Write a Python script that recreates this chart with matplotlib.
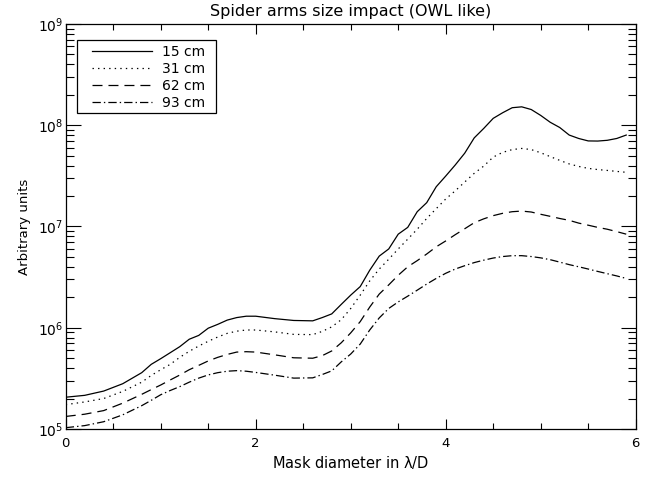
import numpy as np
import matplotlib as mpl
mpl.use('Agg')
import matplotlib.pyplot as plt
from matplotlib.patches import Rectangle
from matplotlib.ticker import MultipleLocator, LogLocator

# mask diameter in lambda/D
mask_diam = [0.0, 0.2, 0.4, 0.6, 0.8, 0.9, 1.0, 1.1, 1.2, 1.3, 1.4, 1.5, 1.6, 1.7, 1.8, 1.9,
             2.0, 2.2, 2.4, 2.6, 2.7, 2.8, 2.9, 3.0, 3.1, 3.2, 3.3, 3.4, 3.5, 3.6, 3.7, 3.8,
             3.9, 4.0, 4.1, 4.2, 4.3, 4.4, 4.5, 4.6, 4.7, 4.8, 4.9, 5.0, 5.1, 5.2, 5.3, 5.4,
             5.5, 5.6, 5.7, 5.8, 5.9]

# arbitrary units, one list per spider arm size
arm_15cm = [2.06e5, 2.15e5, 2.37e5, 2.8e5, 3.6e5, 4.35e5, 4.95e5, 5.67e5, 6.5e5, 7.7e5, 8.4e5,
            9.9e5, 1.08e6, 1.19e6, 1.26e6, 1.30e6, 1.30e6, 1.23e6, 1.18e6, 1.17e6, 1.26e6,
            1.37e6, 1.7e6, 2.1e6, 2.55e6, 3.7e6, 5.1e6, 6.0e6, 8.4e6, 9.8e6, 1.40e7, 1.72e7,
            2.47e7, 3.15e7, 4.05e7, 5.3e7, 7.5e7, 9.3e7, 1.17e8, 1.33e8, 1.49e8, 1.52e8,
            1.43e8, 1.25e8, 1.07e8, 9.5e7, 8.0e7, 7.4e7, 7.0e7, 6.98e7, 7.1e7, 7.4e7, 8.0e7]
arm_31cm = [1.74e5, 1.85e5, 2.0e5, 2.35e5, 2.9e5, 3.38e5, 3.85e5, 4.35e5, 5.1e5, 5.85e5, 6.6e5,
            7.35e5, 8.1e5, 8.8e5, 9.25e5, 9.5e5, 9.5e5, 9.1e5, 8.6e5, 8.55e5, 9.2e5, 1.02e6,
            1.2e6, 1.55e6, 2.1e6, 2.9e6, 3.8e6, 4.75e6, 6.0e6, 7.5e6, 9.4e6, 1.2e7, 1.5e7,
            1.87e7, 2.25e7, 2.75e7, 3.35e7, 3.95e7, 4.85e7, 5.4e7, 5.75e7, 5.9e7, 5.75e7,
            5.35e7, 4.9e7, 4.5e7, 4.15e7, 3.92e7, 3.75e7, 3.65e7, 3.58e7, 3.5e7, 3.43e7]
arm_62cm = [1.33e5, 1.4e5, 1.52e5, 1.8e5, 2.2e5, 2.45e5, 2.72e5, 3.05e5, 3.41e5, 3.85e5, 4.25e5,
            4.7e5, 5.1e5, 5.45e5, 5.75e5, 5.8e5, 5.75e5, 5.4e5, 5.05e5, 5.0e5, 5.3e5, 5.9e5,
            7.1e5, 8.9e5, 1.15e6, 1.6e6, 2.15e6, 2.65e6, 3.3e6, 4.0e6, 4.6e6, 5.35e6, 6.3e6,
            7.2e6, 8.3e6, 9.5e6, 1.09e7, 1.19e7, 1.28e7, 1.35e7, 1.40e7, 1.42e7, 1.39e7,
            1.32e7, 1.26e7, 1.2e7, 1.15e7, 1.08e7, 1.03e7, 9.8e6, 9.4e6, 8.9e6, 8.4e6]
arm_93cm = [1.03e5, 1.08e5, 1.18e5, 1.38e5, 1.7e5, 1.92e5, 2.18e5, 2.4e5, 2.62e5, 2.9e5, 3.18e5,
            3.42e5, 3.6e5, 3.72e5, 3.77e5, 3.72e5, 3.62e5, 3.4e5, 3.18e5, 3.2e5, 3.45e5, 3.75e5,
            4.6e5, 5.5e5, 6.9e5, 9.5e5, 1.25e6, 1.55e6, 1.8e6, 2.05e6, 2.35e6, 2.7e6, 3.07e6,
            3.45e6, 3.8e6, 4.1e6, 4.4e6, 4.65e6, 4.88e6, 5.05e6, 5.15e6, 5.15e6, 5.05e6,
            4.9e6, 4.7e6, 4.45e6, 4.2e6, 4.0e6, 3.8e6, 3.6e6, 3.42e6, 3.25e6, 3.07e6]

labels = ['15 cm', '31 cm', '62 cm', '93 cm']

plt.rcParams['font.family'] = 'DejaVu Sans'
plt.rcParams['mathtext.default'] = 'regular'
plt.rcParams['lines.scale_dashes'] = False

fig = plt.figure(figsize=(6.62, 4.79), dpi=100)
ax = fig.add_axes([0.0993, 0.1044, 0.8610, 0.8455])

# IDL-like linestyles: solid, dotted, dashed, dash-dot
styles = ['-', (0, (1, 3)), (0, (7.2, 4.3)), (0, (6, 2.2, 1, 2.2))]
series = [arm_15cm, arm_31cm, arm_62cm, arm_93cm]
for vals, ls, lab in zip(series, styles, labels):
    ax.plot(mask_diam, vals, color='black', linestyle=ls, linewidth=0.9, label=lab)

ax.set_yscale('log')
ax.set_xlim(0, 6)
ax.set_ylim(1e5, 1e9)

ax.xaxis.set_major_locator(MultipleLocator(2))
ax.xaxis.set_minor_locator(MultipleLocator(0.5))
ax.yaxis.set_major_locator(LogLocator(base=10))
ax.yaxis.set_minor_locator(LogLocator(base=10, subs=np.arange(2, 10)))

ax.tick_params(which='both', direction='in', top=True, right=True, width=0.8, colors='black')
ax.tick_params(axis='x', which='major', length=7, pad=6, labelsize=9.5)
ax.tick_params(axis='x', which='minor', length=4)
ax.tick_params(axis='y', which='major', length=11, pad=2, labelsize=10)
ax.tick_params(axis='y', which='minor', length=5.5)
for sp in ax.spines.values():
    sp.set_linewidth(0.9)

ax.set_title('Spider arms size impact (OWL like)', fontsize=11.5, pad=6)
ax.set_xlabel('Mask diameter in $\\lambda$/D', fontsize=10.5, labelpad=3)
ax.set_ylabel('Arbitrary units', fontsize=9.5, labelpad=5)

# legend box drawn by hand so the padding matches the original
ax.add_patch(Rectangle((0.0193, 0.781), 0.2437, 0.1788, transform=ax.transAxes,
                       fill=False, edgecolor='black', linewidth=0.9, zorder=5))
leg = ax.legend(loc='upper left', bbox_to_anchor=(0.0456, 0.9477), borderaxespad=0,
                fontsize=10, handlelength=4.32, handletextpad=0.72, borderpad=0,
                labelspacing=0.22, frameon=False)

plt.savefig('out.png', dpi=100)
